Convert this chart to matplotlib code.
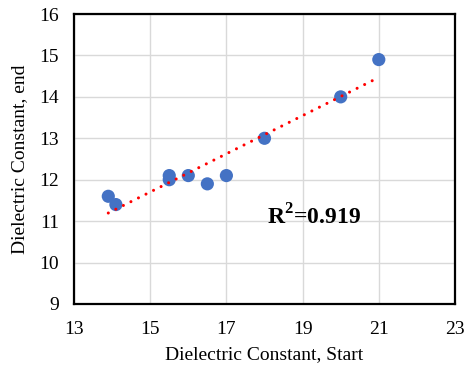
import numpy as np
import matplotlib
matplotlib.use("Agg")
import matplotlib.pyplot as plt

x_start = [13.9, 14.1, 15.5, 15.5, 16.0, 16.5, 17.0, 18.0, 20.0, 21.0]
y_end = [11.6, 11.4, 12.0, 12.1, 12.1, 11.9, 12.1, 13.0, 14.0, 14.9]
x_ticks = [13, 15, 17, 19, 21, 23]
y_ticks = [9, 10, 11, 12, 13, 14, 15, 16]
r2_label = "R$^{2}$=0.919"

plt.rcParams['font.family'] = ['Liberation Serif', 'DejaVu Serif']
plt.rcParams['mathtext.fontset'] = 'custom'
plt.rcParams['mathtext.rm'] = 'Liberation Serif:bold'
plt.rcParams['mathtext.bf'] = 'Liberation Serif:bold'

fig = plt.figure(figsize=(4.7, 3.66), dpi=100)
ax = fig.add_axes([74/470, 1-304/366, (455-74)/470, (304-14)/366])

ax.grid(True, color='#d9d9d9', linewidth=1.0, zorder=0)
ax.set_axisbelow(True)

coef = np.polyfit(x_start, y_end, 1)
xf = np.array([min(x_start), 20.85])
ax.plot(xf, np.polyval(coef, xf), color='#ff0000', linewidth=2.2,
        linestyle=(0, (0.01, 2.75)), dash_capstyle='round', zorder=3)

ax.scatter(x_start, y_end, s=90, color='#4472c4', edgecolors='none', zorder=2)

ax.set_xlim(13, 23)
ax.set_ylim(9, 16)
ax.set_xticks(x_ticks)
ax.set_yticks(y_ticks)
ax.tick_params(length=0, labelsize=14, pad=12)
ax.tick_params(axis='y', pad=11)
for s in ax.spines.values():
    s.set_linewidth(1.6)
    s.set_color('black')

ax.set_xlabel("Dielectric Constant, Start", fontsize=14, labelpad=6)
ax.set_ylabel("Dielectric Constant, end", fontsize=14, labelpad=8)

ax.text(19.3, 11.1, r2_label, fontsize=17, fontweight='bold', ha='center', va='center')

fig.savefig("out.png", dpi=100)
